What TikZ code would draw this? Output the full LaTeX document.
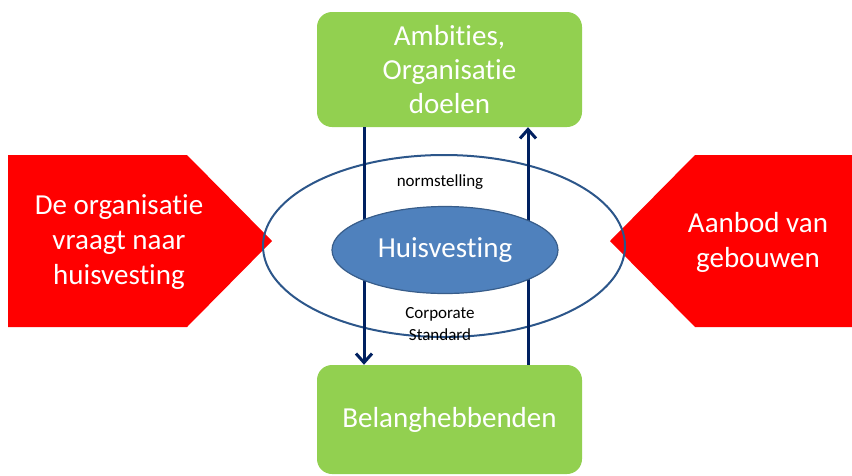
\documentclass[tikz,border=0pt]{standalone}
\usepackage{fontspec}
\setmainfont[Ligatures=NoCommon]{Carlito}
\usetikzlibrary{arrows.meta,shapes.geometric}
\definecolor{goalgreen}{RGB}{146,208,80}
\definecolor{navyline}{RGB}{0,32,96}
\definecolor{housefill}{RGB}{79,129,189}
\definecolor{houseline}{RGB}{56,93,138}
\definecolor{ringline}{RGB}{44,86,138}
\newcommand\tisep{t\kern0pt i}

\begin{document}
\begin{tikzpicture}[x=1pt,y=-1pt,
  greenbox/.style={fill=goalgreen, rounded corners=15pt, text=white, align=center, font=\fontsize{29}{34}\selectfont},
  redtext/.style={text=white, align=center, font=\fontsize{29}{35}\selectfont},
  smalltext/.style={align=center, font=\fontsize{17}{22}\selectfont},
  flow/.style={draw=navyline, line width=3pt, -{Straight Barb[length=9pt,width=16pt,line width=3pt]}}]
\useasboundingbox (0,0) rectangle (852,475);
% vraag en aanbod
\fill[red] (8,155) -- (187,155) -- (272,241) -- (187,327) -- (8,327) -- cycle;
\node[redtext] (vraag) at (119,242) {De organisa\tisep e\\vraagt naar\\huisvesting};
\fill[red] (852,155) -- (695,155) -- (610,241) -- (695,327) -- (852,327) -- cycle;
\node[redtext] (aanbod) at (758,242) {Aanbod van\\gebouwen};
% doelen en belanghebbenden
\node[greenbox, minimum width=265pt, minimum height=115pt] (ambities) at (449.5,69.5) {Ambi\tisep es,\\Organisa\tisep e\\doelen};
\node[greenbox, minimum width=265pt, minimum height=109pt] (belang) at (449.5,419.5) {Belanghebbenden};
\node[ellipse, draw=ringline, line width=2pt, minimum width=362pt, minimum height=182pt] (ring) at (444,246) {};
\draw[flow] ([xshift=-85.5pt]ambities.south) -- ([xshift=-85.5pt]belang.north);
\draw[flow] ([xshift=78.5pt]belang.north) -- ([xshift=78.5pt]ambities.south);
\node[ellipse, fill=housefill, draw=houseline, line width=1.2pt, minimum width=226pt, minimum height=87pt, text=white, font=\fontsize{29}{34}\selectfont] (huis) at (445,250) {Huisvesting};
\node[smalltext] (norm) at (440,182) {normstelling};
\node[smalltext] (corporate) at (440,324) {Corporate\\Standard};
\end{tikzpicture}
\end{document}
